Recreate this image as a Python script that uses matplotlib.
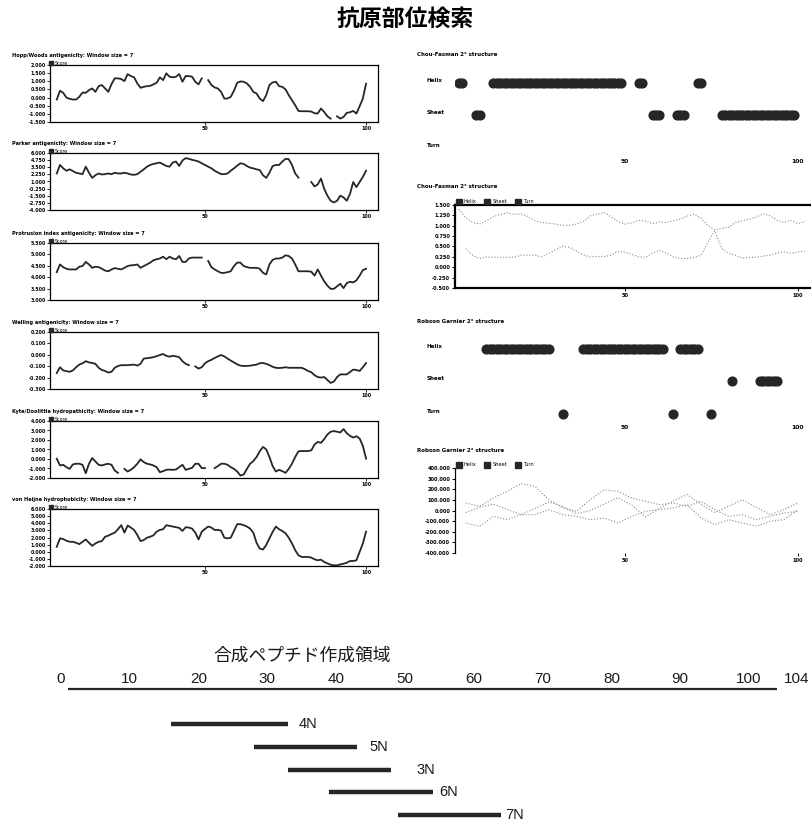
import numpy as np
import matplotlib.pyplot as plt
from matplotlib.patches import Patch

nan = np.nan

# ---------- left column: window-7 propensity profiles (residues 4..100) ----------
residues = np.arange(4, 101)

hopp = [-0.12, 0.42, 0.29, 0.00, -0.08, -0.12, -0.12, 0.05, 0.31, 0.29,
        0.46, 0.56, 0.35, 0.70, 0.77, 0.56, 0.35, 0.83, 1.18, 1.18,
        1.14, 1.01, 1.44, 1.32, 1.24, 0.87, 0.60, 0.66, 0.70, 0.72,
        0.81, 0.91, 1.24, 1.07, 1.49, 1.28, 1.24, 1.28, 1.44, 0.97,
        1.32, 1.32, 1.28, 0.97, 0.81, 1.18, nan, 1.07, 0.77, 0.62,
        0.56, 0.35, -0.06, -0.06, 0.05, 0.42, 0.91, 0.99, 0.97, 0.87,
        0.66, 0.35, 0.25, -0.06, -0.22, 0.15, 0.77, 0.93, 0.97, 0.70,
        0.66, 0.50, 0.15, -0.16, -0.47, -0.82, -0.84, -0.84, -0.84, -0.86,
        -0.96, -0.98, -0.67, -0.88, -1.15, -1.29, nan, -1.15, -1.29, -1.19,
        -0.94, -0.90, -0.82, -0.98, -0.53, -0.06, 0.85]

parker = [2.41, 3.90, 3.31, 2.89, 3.13, 2.83, 2.53, 2.41, 2.29, 3.60,
          2.53, 1.63, 2.11, 2.41, 2.23, 2.29, 2.41, 2.29, 2.53, 2.41,
          2.41, 2.53, 2.41, 2.23, 2.17, 2.29, 2.71, 3.13, 3.60, 3.90,
          4.08, 4.20, 4.32, 4.02, 3.72, 3.60, 4.32, 4.50, 3.72, 4.68,
          5.10, 4.98, 4.80, 4.68, 4.50, 4.20, 3.90, 3.60, 3.31, 2.89,
          2.59, 2.29, 2.29, 2.41, 2.89, 3.31, 3.78, 4.20, 4.08, 3.72,
          3.43, 3.31, 3.13, 3.01, 2.11, 1.63, 2.53, 3.72, 3.90, 3.90,
          4.50, 4.98, 4.92, 3.90, 2.41, 1.69, nan, nan, nan, 0.91,
          0.13, 0.49, 1.51, -0.29, -1.49, -2.38, -2.68, -2.38, -1.49, -1.78,
          -2.38, -1.19, 0.91, 0.01, 0.91, 1.81, 2.89]

protrusion = [4.22, 4.56, 4.44, 4.37, 4.34, 4.34, 4.34, 4.46, 4.49, 4.67,
              4.56, 4.41, 4.46, 4.44, 4.37, 4.29, 4.26, 4.34, 4.40, 4.37,
              4.34, 4.41, 4.49, 4.52, 4.53, 4.56, 4.41, 4.49, 4.56, 4.64,
              4.74, 4.79, 4.82, 4.90, 4.79, 4.90, 4.82, 4.79, 4.93, 4.67,
              4.67, 4.82, 4.86, 4.86, 4.86, 4.86, nan, 4.71, 4.44, 4.34,
              4.26, 4.19, 4.19, 4.22, 4.26, 4.49, 4.64, 4.64, 4.49, 4.44,
              4.41, 4.41, 4.41, 4.37, 4.19, 4.12, 4.56, 4.76, 4.82, 4.82,
              4.86, 4.96, 4.93, 4.82, 4.56, 4.26, 4.26, 4.26, 4.26, 4.24,
              4.07, 4.34, 4.07, 3.82, 3.63, 3.49, 3.49, 3.60, 3.71, 3.52,
              3.74, 3.80, 3.77, 3.86, 4.07, 4.31, 4.37]

welling = [-0.160, -0.109, -0.137, -0.144, -0.149, -0.137, -0.109, -0.086, -0.074, -0.056,
           -0.067, -0.072, -0.079, -0.114, -0.133, -0.142, -0.156, -0.149, -0.114, -0.098,
           -0.091, -0.091, -0.091, -0.088, -0.086, -0.095, -0.079, -0.033, -0.030, -0.026,
           -0.021, -0.012, -0.002, 0.007, -0.009, -0.016, -0.009, -0.014, -0.021, -0.056,
           -0.079, -0.091, nan, -0.102, -0.121, -0.109, -0.074, -0.056, -0.044, -0.028,
           -0.014, -0.002, -0.014, -0.033, -0.051, -0.067, -0.084, -0.095, -0.098, -0.098,
           -0.095, -0.091, -0.086, -0.074, -0.072, -0.079, -0.091, -0.105, -0.114, -0.116,
           -0.114, -0.109, -0.114, -0.114, -0.114, -0.114, -0.114, -0.126, -0.142, -0.153,
           -0.179, -0.195, -0.200, -0.195, -0.221, -0.247, -0.235, -0.195, -0.172, -0.172,
           -0.172, -0.151, -0.130, -0.133, -0.142, -0.109, -0.072]

kyte = [0.03, -0.68, -0.61, -0.86, -1.04, -0.57, -0.50, -0.50, -0.61, -1.50,
        -0.50, 0.10, -0.26, -0.61, -0.68, -0.57, -0.50, -0.61, -1.21, -1.46,
        nan, -1.04, -1.32, -1.14, -0.86, -0.50, -0.04, -0.33, -0.50, -0.57,
        -0.68, -0.86, -1.39, -1.28, -1.14, -1.11, -1.14, -1.11, -0.86, -0.61,
        -1.14, -1.04, -0.93, -0.50, -0.50, -0.96, -0.96, nan, nan, -0.96,
        -0.75, -0.50, -0.50, -0.61, -0.86, -1.04, -1.32, -1.74, -1.64, -1.04,
        -0.50, -0.22, 0.21, 0.81, 1.27, 1.02, 0.21, -0.75, -1.32, -1.14,
        -1.28, -1.46, -1.04, -0.50, 0.21, 0.81, 0.84, 0.84, 0.84, 0.91,
        1.52, 1.80, 1.70, 2.09, 2.58, 2.87, 2.94, 2.87, 2.79, 3.15,
        2.72, 2.44, 2.26, 2.40, 2.16, 1.38, 0.03]

heijne = [0.69, 1.88, 1.78, 1.55, 1.40, 1.40, 1.26, 1.07, 1.40, 1.73,
          1.26, 0.83, 1.17, 1.40, 1.50, 2.11, 2.26, 2.49, 2.68, 3.16,
          3.73, 2.68, 3.68, 3.39, 3.06, 2.35, 1.50, 1.64, 1.97, 2.11,
          2.30, 2.82, 3.06, 3.16, 3.73, 3.63, 3.54, 3.44, 3.35, 2.92,
          3.44, 3.39, 3.25, 2.68, 1.73, 2.82, 3.20, 3.54, 3.39, 3.06,
          3.06, 2.97, 1.97, 1.88, 1.97, 2.92, 3.87, 3.87, 3.73, 3.54,
          3.25, 2.68, 1.26, 0.45, 0.31, 0.93, 1.88, 2.78, 3.54, 3.16,
          2.92, 2.59, 1.97, 1.17, 0.22, -0.49, -0.73, -0.73, -0.73, -0.82,
          -1.06, -1.20, -1.11, -1.44, -1.63, -1.82, -1.91, -1.91, -1.77, -1.68,
          -1.54, -1.30, -1.30, -1.20, -0.02, 1.17, 2.82]

hopp_ticks = [2.0, 1.5, 1.0, 0.5, 0.0, -0.5, -1.0, -1.5]
parker_ticks = [6.0, 4.75, 3.5, 2.25, 1.0, -0.25, -1.5, -2.75, -4.0]
protrusion_ticks = [5.5, 5.0, 4.5, 4.0, 3.5, 3.0]
welling_ticks = [0.2, 0.1, 0.0, -0.1, -0.2, -0.3]
kyte_ticks = [4.0, 3.0, 2.0, 1.0, 0.0, -1.0, -2.0]
heijne_ticks = [6.0, 5.0, 4.0, 3.0, 2.0, 1.0, 0.0, -1.0, -2.0]

# ---------- right column: secondary structure ----------
states = ["Helix", "Sheet", "Turn"]
# (first, last) residue of each predicted segment
chou_helix = [(2, 3), (12, 49), (54, 55), (71, 72)]
chou_sheet = [(7, 8), (58, 60), (65, 67), (78, 99)]
chou_turn = []
robson_helix = [(10, 28), (38, 61), (66, 71)]
robson_sheet = [(81, 81), (89, 94)]
robson_turn = [(32, 32), (64, 64), (75, 75)]

chou_helix_x = np.arange(2, 103, 2)
chou_helix_y = [1.40, 1.20, 1.08, 1.04, 1.12, 1.22, 1.27, 1.31, 1.27, 1.29,
                1.22, 1.12, 1.08, 1.06, 1.04, 1.01, 1.01, 1.04, 1.10, 1.24,
                1.28, 1.32, 1.22, 1.10, 1.04, 1.07, 1.13, 1.11, 1.05, 1.09,
                1.08, 1.12, 1.16, 1.23, 1.28, 1.18, 1.00, 0.90, 0.94, 0.96,
                1.08, 1.12, 1.16, 1.21, 1.29, 1.24, 1.13, 1.08, 1.13, 1.05,
                1.10]
chou_sheet_x = np.arange(4, 103, 2)
chou_sheet_y = [0.45, 0.29, 0.21, 0.25, 0.24, 0.24, 0.24, 0.24, 0.29, 0.29,
                0.29, 0.25, 0.33, 0.42, 0.50, 0.48, 0.39, 0.30, 0.25, 0.26,
                0.26, 0.29, 0.38, 0.36, 0.31, 0.25, 0.24, 0.34, 0.41, 0.34,
                0.25, 0.21, 0.21, 0.24, 0.29, 0.60, 0.88, 0.45, 0.33, 0.29,
                0.22, 0.24, 0.24, 0.27, 0.29, 0.34, 0.37, 0.33, 0.37, 0.39]
chou_prof_ticks = [1.5, 1.25, 1.0, 0.75, 0.5, 0.25, 0.0, -0.25, -0.5]

robson_x = np.arange(4, 101, 4)
robson_helix_y = [71, 39, 118, 180, 253, 227, 102, 24, -8, 102, 196, 180, 118,
                  86, 55, 71, 39, 86, 8, -55, -39, -86, -55, -24, -8]
robson_sheet_y = [-118, -149, -55, -86, -39, -39, 8, -39, -55, -86, -71, -118, -55,
                  -8, 8, 24, 55, -71, -133, -86, -118, -149, -102, -86, 8]
robson_turn_y = [-20, 30, 60, 10, -40, 20, 80, 40, -30, 0, 60, 120, 50,
                 -60, 20, 90, 150, 60, -20, 40, 100, 30, -40, 10, 70]
robson_prof_ticks = [400, 300, 200, 100, 0, -100, -200, -300, -400]

# ---------- synthetic peptide regions ----------
seq_len = 104
ruler_ticks = [0, 10, 20, 30, 40, 50, 60, 70, 80, 90, 100]
pep_names = ["4N", "5N", "3N", "6N", "7N"]
pep_start = [16, 28, 33, 39, 49]
pep_end = [33, 43, 48, 54, 64]

W, H = 811, 822
DARK = "#262626"
fig = plt.figure(figsize=(W / 100, H / 100), dpi=100)


def rect(x0, y0, x1, y1):
    # pixel box measured from the top-left corner -> figure fraction
    return [x0 / W, 1 - y1 / H, (x1 - x0) / W, (y1 - y0) / H]


def ftext(x, y, s, **kw):
    fig.text(x / W, 1 - y / H, s, **kw)


ftext(405, 19, "抗原部位検索", ha="center", va="center", fontsize=16.5,
      weight="bold", family=["Noto Sans CJK JP", "DejaVu Sans"])

# left profiles
left = [
    ("Hopp/Woods antigenicity: Window size = 7", hopp, hopp_ticks, 65),
    ("Parker antigenicity: Window size = 7", parker, parker_ticks, 153),
    ("Protrusion index antigenicity: Window size = 7", protrusion, protrusion_ticks, 243),
    ("Welling antigenicity: Window size = 7", welling, welling_ticks, 332),
    ("Kyte/Doolittle hydropathicity: Window size = 7", kyte, kyte_ticks, 421),
    ("von Heijne hydrophobicity: Window size = 7", heijne, heijne_ticks, 509),
]
for title, vals, ticks, top in left:
    ax = fig.add_axes(rect(50, top, 378, top + 57))
    ax.plot(residues, vals, color=DARK, lw=1.3)
    ax.set_xlim(1.9, 103.7)
    ax.set_ylim(ticks[-1], ticks[0])
    ax.set_yticks(ticks)
    ax.set_yticklabels([f"{t:.3f}" for t in ticks])
    ax.set_xticks([50, 100])
    ax.tick_params(labelsize=3.4, length=2, width=0.6, pad=1)
    for lab in ax.get_xticklabels() + ax.get_yticklabels():
        lab.set_fontweight("bold")
    for sp in ax.spines.values():
        sp.set_linewidth(0.9)
    ftext(12, top - 10, title, fontsize=3.6, weight="bold", va="center")
    ax.legend(handles=[Patch(color=DARK, label="Score")], loc="lower left",
              bbox_to_anchor=(-0.003, 0.99), frameon=False, fontsize=3.4,
              handlelength=0.9, handleheight=1.1, borderpad=0, borderaxespad=0,
              handletextpad=0.3)


# secondary structure tracks
def track(top, title, segs):
    ax = fig.add_axes(rect(455, top, 811, top + 88))
    for row, seg_list in zip([3, 2, 1], segs):
        for a, b in seg_list:
            xs = np.arange(a, b + 1)
            ax.plot(xs, np.full(len(xs), row), "-o", lw=6.0, ms=6.3,
                    color=DARK, mec=DARK, solid_capstyle="butt")
    for row, name in zip([3, 2, 1], states):
        ax.text(-0.079, row, name, transform=ax.get_yaxis_transform(),
                fontsize=4, weight="bold", va="bottom")
    ax.set_xlim(0.9, 103.8)
    ax.set_ylim(0.785, 3.49)
    ax.set_yticks([])
    ax.set_xticks([50, 100])
    ax.tick_params(axis="x", length=0, labelsize=4.3, pad=3)
    for lab in ax.get_xticklabels():
        lab.set_fontweight("bold")
    for sp in ax.spines.values():
        sp.set_visible(False)
    ftext(417, top - 12, title, fontsize=4, weight="bold", va="center")


track(67, "Chou-Fasman 2° structure", [chou_helix, chou_sheet, chou_turn])
track(333, "Robson Garnier 2° structure", [robson_helix, robson_sheet, robson_turn])


def profile(top, bottom, title, series, ticks, boxed):
    ax = fig.add_axes(rect(455, top, 811, bottom))
    for xs, ys in series:
        ax.plot(xs, ys, ":", color="#8a8a8a", lw=0.8)
    ax.set_xlim(0.9, 103.8)
    ax.set_ylim(ticks[-1], ticks[0])
    ax.set_yticks(ticks)
    ax.set_yticklabels([f"{t:.3f}" for t in ticks])
    ax.set_xticks([50, 100])
    ax.tick_params(labelsize=3.6, length=2.5, width=0.7, pad=1)
    for lab in ax.get_xticklabels() + ax.get_yticklabels():
        lab.set_fontweight("bold")
    ax.spines["right"].set_visible(False)
    if boxed:
        for side in ("left", "top", "bottom"):
            ax.spines[side].set_linewidth(1.6)
    else:
        ax.spines["top"].set_visible(False)
        ax.spines["bottom"].set_visible(False)
        ax.spines["left"].set_linewidth(0.9)
    ftext(417, top - 18, title, fontsize=4, weight="bold", va="center")
    ax.legend(handles=[Patch(color=DARK, label=s) for s in states], ncol=3,
              loc="lower left", bbox_to_anchor=(0.0, 1.0), frameon=False,
              fontsize=3.6, handlelength=1.2, handleheight=1.4, borderpad=0,
              borderaxespad=0.1, handletextpad=0.4, columnspacing=1.6)


profile(205, 288, "Chou-Fasman 2° structure",
        [(chou_helix_x, chou_helix_y), (chou_sheet_x, chou_sheet_y)],
        chou_prof_ticks, True)
profile(468, 553, "Robson Garnier 2° structure",
        [(robson_x, robson_helix_y), (robson_x, robson_sheet_y), (robson_x, robson_turn_y)],
        robson_prof_ticks, False)

# synthetic peptide map
axb = fig.add_axes(rect(0, 640, 811, 822))
axb.set_xlim(-61 / 6.88, (811 - 61) / 6.88)
axb.set_ylim(4.3, -3.68)
axb.axis("off")
sans = ["Liberation Sans", "DejaVu Sans"]
axb.text(35, -2.98, "合成ペプチド作成領域", ha="center", va="center", fontsize=12.8,
         family=["Noto Sans CJK JP", "DejaVu Sans"], color="#1a1a1a")
axb.plot([1, seq_len], [-1.55, -1.55], color=DARK, lw=1.6, solid_capstyle="butt")
for t in ruler_ticks:
    axb.text(t, -1.98, str(t), ha="center", va="center", fontsize=11,
             family=sans, color="#1a1a1a")
axb.text(seq_len + 1.0, -1.98, str(seq_len), ha="left", va="center", fontsize=11,
         family=sans, color="#1a1a1a")
gaps = [1.6, 1.9, 3.6, 1.0, 0.5]
for i, (name, a, b) in enumerate(zip(pep_names, pep_start, pep_end)):
    axb.plot([a, b], [i, i], color=DARK, lw=3.2, solid_capstyle="butt")
    axb.text(b + gaps[i], i, name, ha="left", va="center", fontsize=10.5,
             family=sans, color="#1a1a1a")

fig.savefig("out.png", dpi=100)
